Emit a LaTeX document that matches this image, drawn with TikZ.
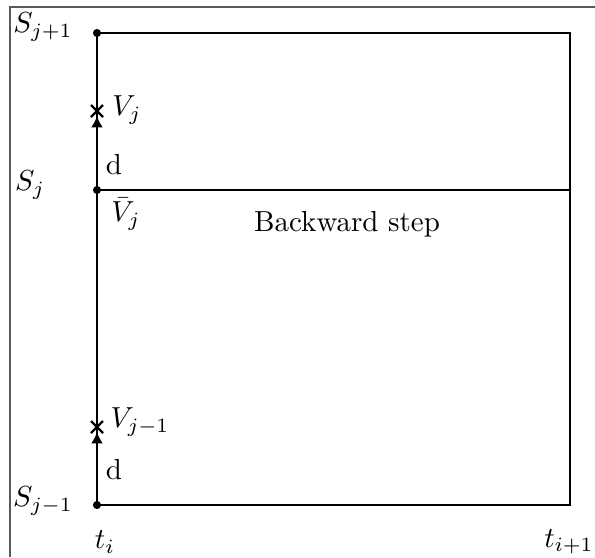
\documentclass[tikz,border=0pt]{standalone}
\usetikzlibrary{arrows.meta,calc}
\begin{document}
\begin{tikzpicture}[x=0.345pt,y=-0.345pt,
  frame/.style={line width=0.55pt,draw=black!65},
  edge/.style={line width=0.75pt},
  thinedge/.style={line width=0.4pt},
  dot/.style={circle,fill=black,inner sep=0pt,minimum size=2.8pt},
  lbl/.style={inner sep=0pt},
  xmark/.style={line width=0.75pt}]
\useasboundingbox (0,0) rectangle (595,557);
\draw[frame] (10,557) -- (10,7) -- (595,7);
% corners
\coordinate (tl) at (97,33);
\coordinate (ml) at (97,190);
\coordinate (bl) at (97,505);
\coordinate (tr) at (570,33);
\coordinate (mr) at (570,190);
\coordinate (br) at (570,505);
\coordinate (xa) at (97,111);
\coordinate (xb) at (97,427);
\draw[edge] (bl) -- (tl) -- (tr) -- (br) -- (bl);
\draw[thinedge] (ml) -- (mr);
\node[dot] (dtl) at (tl) {};
\node[dot] (dml) at (ml) {};
\node[dot] (dbl) at (bl) {};
% arrows
\draw[edge,-{Latex[length=3.9pt,width=4.1pt]}] (97,145) -- (97,116);
\draw[edge,-{Latex[length=3.9pt,width=4.1pt]}] (97,460) -- (97,432);
\draw[xmark] ($(xa)+(-6,-6)$) -- ($(xa)+(6,6)$) ($(xa)+(-6,6)$) -- ($(xa)+(6,-6)$);
\draw[xmark] ($(xb)+(-6,-6)$) -- ($(xb)+(6,6)$) ($(xb)+(-6,6)$) -- ($(xb)+(6,-6)$);
% labels
\node[lbl] (s1) at (43,27) {$S_{j+1}$};
\node[lbl] (s0) at (30,185) {$S_j$};
\node[lbl] (sm) at (43,501) {$S_{j-1}$};
\node[lbl] (vj) at (127,110) {$V_j$};
\node[lbl] (d1) at (114,165) {d};
\node[lbl] (vb) at (126,214) {$\bar V_j$};
\node[lbl] (vm) at (140,422) {$V_{j-1}$};
\node[lbl] (d2) at (114,470) {d};
\node[lbl] (ti) at (105,542) {$t_i$};
\node[lbl] (ti1) at (569,542) {$t_{i+1}$};
\node[lbl] (bs) at (347,224) {Backward step};
\end{tikzpicture}
\end{document}
